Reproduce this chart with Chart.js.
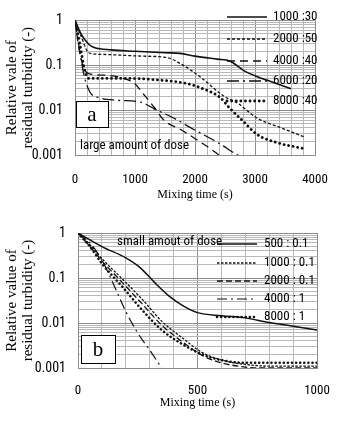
<!DOCTYPE html>
<html>
<head>
<meta charset="utf-8">
<script src="https://cdn.jsdelivr.net/npm/chart.js@4.4.1/dist/chart.umd.min.js"></script>
<style>
	html, body { margin: 0; padding: 0; background: #fff; }
	.panel { position: absolute; left: 0; width: 350px; }
	#panel-a { top: 0; height: 210px; }
	#panel-b { top: 210px; height: 217px; }
</style>
</head>
<body>
<div class="panel" id="panel-a"><canvas id="chartA" width="350" height="210"></canvas></div>
<div class="panel" id="panel-b"><canvas id="chartB" width="350" height="217"></canvas></div>
<script>
// panel a - large amount of dose
const labelsA = ['1000 :30', '2000 :50', '4000 :40', '6000 :20', '8000 :40'];
const timeA1 = [0, 100, 233, 320, 600, 1000, 1500, 1750, 2000, 2370, 2580, 2800, 3030, 3250, 3600];
const valueA1 = [1, 0.5, 0.29, 0.25, 0.22, 0.205, 0.19, 0.184, 0.16, 0.137, 0.125, 0.078, 0.056, 0.044, 0.03];
const timeA2 = [0, 100, 230, 450, 1100, 1540, 1750, 2080, 2470, 2720, 3030, 3420, 3830];
const valueA2 = [1, 0.45, 0.19, 0.175, 0.16, 0.148, 0.11, 0.056, 0.021, 0.014, 0.0067, 0.0041, 0.0025];
const timeA3 = [0, 70, 150, 230, 500, 760, 985, 1150, 1320, 1480, 1760, 2100, 2250, 2400];
const valueA3 = [1, 0.22, 0.084, 0.065, 0.06, 0.053, 0.04, 0.022, 0.0116, 0.006, 0.0037, 0.0019, 0.0014, 0.001];
const timeA4 = [0, 70, 150, 250, 400, 700, 1100, 1320, 1650, 1980, 2320, 2470, 2610, 2720];
const valueA4 = [1, 0.25, 0.06, 0.025, 0.019, 0.0166, 0.015, 0.0107, 0.0066, 0.0037, 0.0021, 0.0016, 0.0012, 0.001];
const timeA5 = [0, 80, 160, 230, 830, 1390, 1830, 2080, 2420, 2580, 2800, 3030, 3360, 3800];
const valueA5 = [1, 0.3, 0.08, 0.051, 0.051, 0.047, 0.04, 0.032, 0.019, 0.011, 0.0057, 0.0029, 0.0019, 0.0014];

// panel b - small amount of dose
const labelsB = ['500 : 0.1', '1000 : 0.1', '2000 : 0.1', '4000 : 1', '8000 : 1'];
const timeB1 = [0, 100, 200, 260, 320, 380, 440, 500, 600, 700, 800, 900, 1000];
const valueB1 = [1, 0.5, 0.28, 0.17, 0.08, 0.04, 0.024, 0.017, 0.0145, 0.013, 0.0102, 0.0085, 0.007];
const timeB2 = [0, 50, 100, 190, 270, 350, 440, 520, 600, 700, 800, 1000];
const valueB2 = [1, 0.55, 0.27, 0.09, 0.033, 0.011, 0.0045, 0.0022, 0.0015, 0.0012, 0.0011, 0.0011];
const timeB3 = [0, 50, 100, 190, 270, 350, 440, 520, 600, 700, 750, 1000];
const valueB3 = [1, 0.5, 0.24, 0.075, 0.026, 0.009, 0.0037, 0.0019, 0.0013, 0.00105, 0.001, 0.001];
const timeB4 = [0, 50, 100, 150, 200, 250, 300, 350];
const valueB4 = [1, 0.6, 0.25, 0.07, 0.018, 0.006, 0.0025, 0.001];
const timeB5 = [0, 50, 100, 190, 270, 350, 440, 520, 600, 700, 1000];
const valueB5 = [1, 0.5, 0.21, 0.06, 0.019, 0.007, 0.0033, 0.002, 0.0015, 0.0013, 0.0013];

// axis ticks
const yMajorTicks = [1, 0.1, 0.01, 0.001];
const xTicksA = [0, 1000, 2000, 3000, 4000];
const xTicksB = [0, 500, 1000];

const sansNarrow = "'Liberation Sans Narrow', 'Roboto Condensed', Roboto, sans-serif";
const serif = "'Liberation Serif', 'DejaVu Serif', serif";
const lineColor = '#111';
const gridMajor = '#8c8c8c';
const gridMinor = '#b8b8b8';

// minor log grid lines 1..9 per decade
const yGridValues = [];
for (let e = -3; e < 0; e += 1) {
	for (let m = 1; m <= 9; m += 1) {
		yGridValues.push(Number((m * Math.pow(10, e)).toPrecision(3)));
	}
}
yGridValues.push(1);

function toPoints(times, values) {
	return times.map((t, i) => ({ x: t, y: values[i] }));
}

function makeDataset(label, times, values, dash, width, cap) {
	return {
		label,
		data: toPoints(times, values),
		borderColor: lineColor,
		borderWidth: width,
		borderDash: dash,
		borderCapStyle: cap || 'butt',
		pointRadius: 0,
		fill: false,
		cubicInterpolationMode: 'monotone'
	};
}

const panelMarks = {
	id: 'panelMarks',
	afterDatasetsDraw(chart, args, opts) {
		const ctx = chart.ctx;
		ctx.save();
		chart.data.datasets.forEach((ds, i) => {
			const y = opts.rows[i];
			ctx.beginPath();
			ctx.strokeStyle = ds.borderColor;
			ctx.lineWidth = ds.borderWidth;
			ctx.lineCap = ds.borderCapStyle;
			ctx.setLineDash(ds.borderDash);
			ctx.moveTo(opts.x0, y);
			ctx.lineTo(opts.x1, y);
			ctx.stroke();
			ctx.setLineDash([]);
			ctx.fillStyle = '#000';
			ctx.font = `13px ${sansNarrow}`;
			ctx.textBaseline = 'middle';
			ctx.textAlign = 'left';
			ctx.fillText(ds.label, opts.textX, y);
		});

		ctx.fillStyle = '#000';
		ctx.font = `13px ${sansNarrow}`;
		ctx.textBaseline = 'middle';
		ctx.fillText(opts.note.text, opts.note.x, opts.note.y);

		const b = opts.letter;
		ctx.fillStyle = '#fff';
		ctx.fillRect(b.x, b.y, b.w, b.h);
		ctx.strokeStyle = '#000';
		ctx.lineWidth = 1;
		ctx.strokeRect(b.x + 0.5, b.y + 0.5, b.w, b.h);
		ctx.fillStyle = '#000';
		ctx.font = `21px ${serif}`;
		ctx.textAlign = 'center';
		ctx.fillText(b.text, b.x + b.w / 2, b.y + b.h / 2 + 1);
		ctx.restore();
	}
};

function buildScales(xMax, xStep, xLabels, yWidth, xHeight, tickPad, titlePad, yTitle) {
	return {
		x: {
			type: 'linear',
			min: 0,
			max: xMax,
			afterFit: (scale) => { scale.height = xHeight; },
			ticks: {
				stepSize: xStep,
				autoSkip: false,
				maxRotation: 0,
				padding: tickPad,
				color: '#000',
				font: { family: sansNarrow, size: 13 },
				callback: (v) => (xLabels.includes(v) ? String(v) : '')
			},
			grid: {
				drawTicks: false,
				color: (c) => (xLabels.includes(c.tick.value) ? gridMajor : gridMinor)
			},
			border: { color: gridMajor },
			title: {
				display: true,
				text: 'Mixing time (s)',
				color: '#000',
				font: { family: serif, size: 12 },
				padding: { top: 0, bottom: titlePad }
			}
		},
		y: {
			type: 'logarithmic',
			min: 0.001,
			max: 1,
			afterFit: (scale) => { scale.width = yWidth; },
			afterBuildTicks: (scale) => { scale.ticks = yGridValues.map((v) => ({ value: v })); },
			ticks: {
				autoSkip: false,
				padding: 12,
				color: '#000',
				font: { family: sansNarrow, size: 14 },
				callback: (v) => (yMajorTicks.includes(v) ? String(v) : '')
			},
			grid: {
				drawTicks: false,
				color: (c) => (yMajorTicks.includes(c.tick.value) ? gridMajor : gridMinor)
			},
			border: { color: gridMajor },
			title: {
				display: true,
				text: yTitle,
				color: '#000',
				font: { family: serif, size: 15, lineHeight: 1.05 },
				padding: { top: 4, bottom: 0 }
			}
		}
	};
}

new Chart(document.getElementById('chartA'), {
	type: 'line',
	data: {
		datasets: [
			makeDataset(labelsA[0], timeA1, valueA1, [], 1.6),
			makeDataset(labelsA[1], timeA2, valueA2, [3, 2], 1.3),
			makeDataset(labelsA[2], timeA3, valueA3, [8, 5], 1.3),
			makeDataset(labelsA[3], timeA4, valueA4, [12, 4, 2, 4], 1.3),
			makeDataset(labelsA[4], timeA5, valueA5, [0.1, 4.5], 2.8, 'round')
		]
	},
	options: {
		responsive: false,
		animation: false,
		layout: { padding: { top: 15, right: 35, left: 0, bottom: 0 } },
		scales: buildScales(4000, 200, xTicksA, 75, 55, 17, 8, ['Relative vale of', 'residual turbidity (-)']),
		plugins: {
			legend: { display: false },
			tooltip: { enabled: false },
			panelMarks: {
				rows: [17, 39, 61, 81, 101],
				x0: 227,
				x1: 267,
				textX: 273,
				note: { text: 'large amount of dose', x: 80, y: 146 },
				letter: { text: 'a', x: 76, y: 101, w: 32, h: 26 }
			}
		}
	},
	plugins: [panelMarks]
});

new Chart(document.getElementById('chartB'), {
	type: 'line',
	data: {
		datasets: [
			makeDataset(labelsB[0], timeB1, valueB1, [], 1.5),
			makeDataset(labelsB[1], timeB2, valueB2, [2.5, 1.5], 1.3),
			makeDataset(labelsB[2], timeB3, valueB3, [6, 3], 1.3),
			makeDataset(labelsB[3], timeB4, valueB4, [10, 4, 2, 4], 1.2),
			makeDataset(labelsB[4], timeB5, valueB5, [0.1, 4], 2.5, 'round')
		]
	},
	options: {
		responsive: false,
		animation: false,
		layout: { padding: { top: 23, right: 33, left: 0, bottom: 0 } },
		scales: buildScales(1000, 100, xTicksB, 78, 59, 15, 17, ['Relative value of', 'residual turbidity (-)']),
		plugins: {
			legend: { display: false },
			tooltip: { enabled: false },
			panelMarks: {
				rows: [34, 53, 71, 89, 107],
				x0: 217,
				x1: 257,
				textX: 264,
				note: { text: 'small amout of dose', x: 117, y: 32 },
				letter: { text: 'b', x: 81, y: 125, w: 34, h: 28 }
			}
		}
	},
	plugins: [panelMarks]
});
</script>
</body>
</html>
